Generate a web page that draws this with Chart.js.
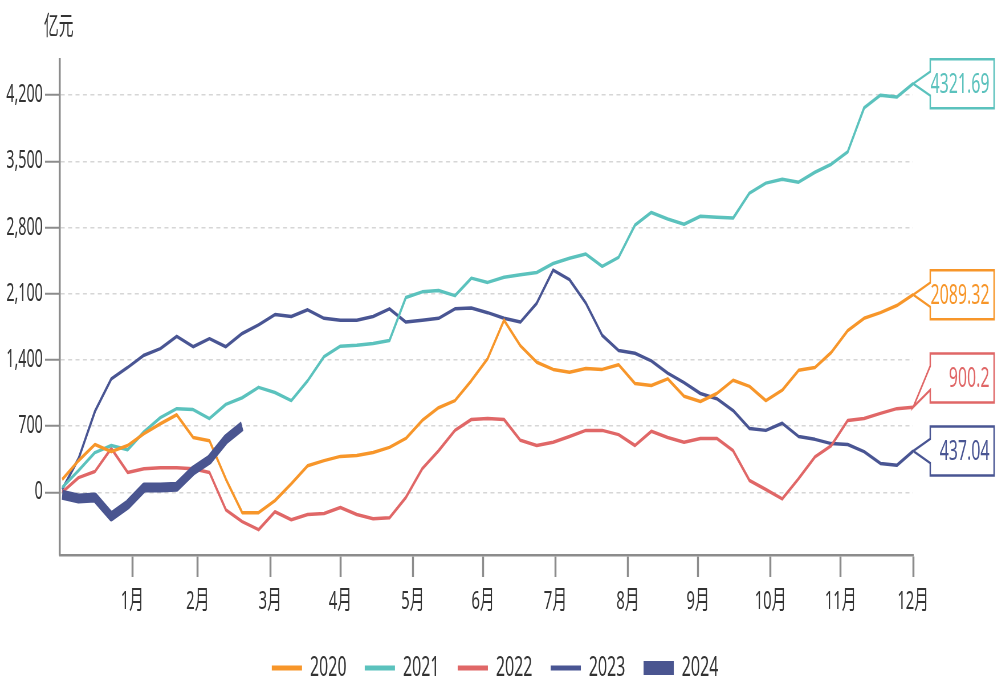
<!DOCTYPE html>
<html>
<head>
<meta charset="utf-8">
<script src="https://cdn.jsdelivr.net/npm/chart.js@4.4.1/dist/chart.umd.min.js"></script>
<style>
  html, body { margin: 0; padding: 0; background: #fff; overflow: hidden; }
  /* the reference is squeezed horizontally, so draw wide and scale down */
  #wrap { width: 1747px; height: 680px; transform: scaleX(0.57); transform-origin: 0 0; }
  #chart { display: block; }
</style>
</head>
<body>
<div id="wrap"><canvas id="chart" width="1747" height="680"></canvas></div>
<script>
// x positions in day-of-year, one sample per week
const days = [1, 8, 15, 22, 29, 36, 43, 50, 57, 64, 71, 78, 85, 92, 99, 106, 113, 120, 127, 134,
  141, 148, 155, 162, 169, 176, 183, 190, 197, 204, 211, 218, 225, 232, 239, 246, 253, 260, 267, 274,
  281, 288, 295, 302, 309, 316, 323, 330, 337, 344, 351, 358, 365];
const monthEnds = [31, 59, 90, 120, 151, 181, 212, 243, 273, 304, 334, 365];
const monthLabels = ['1月', '2月', '3月', '4月', '5月', '6月', '7月', '8月', '9月', '10月', '11月', '12月'];
const yTicks = [0, 700, 1400, 2100, 2800, 3500, 4200];
const years = ['2020', '2021', '2022', '2023', '2024'];

const v2020 = [135, 335, 505, 430, 495, 620, 725, 820, 580, 545, 140, -215, -215, -88, 90, 280, 335, 380, 390, 420,
  475, 570, 760, 895, 970, 1180, 1415, 1820, 1550, 1375, 1300, 1270, 1310, 1300, 1350, 1150, 1130, 1200, 1015, 960,
  1045, 1185, 1120, 970, 1080, 1290, 1320, 1480, 1710, 1840, 1900, 1975, 2089.32];
const v2021 = [50, 230, 420, 495, 450, 640, 790, 885, 875, 780, 930, 1000, 1110, 1055, 970, 1180, 1435, 1545, 1555, 1575,
  1605, 2060, 2120, 2135, 2080, 2265, 2220, 2275, 2300, 2325, 2420, 2475, 2520, 2390, 2485, 2825, 2960, 2890, 2835, 2920,
  2910, 2900, 3165, 3270, 3310, 3280, 3385, 3470, 3600, 4065, 4200, 4180, 4321.69];
const v2022 = [0, 155, 220, 465, 210, 250, 260, 260, 250, 210, -185, -310, -395, -205, -290, -235, -225, -160, -235, -280,
  -270, -55, 250, 440, 655, 770, 780, 770, 550, 495, 530, 590, 655, 655, 610, 495, 645, 580, 530, 570,
  570, 440, 125, 30, -70, 145, 375, 495, 760, 780, 835, 885, 900.2];
const v2023 = [30, 357, 855, 1200, 1320, 1450, 1520, 1650, 1540, 1625, 1540, 1680, 1770, 1880, 1860, 1930, 1840, 1820, 1820, 1860,
  1940, 1800, 1820, 1840, 1940, 1950, 1900, 1840, 1800, 2000, 2350, 2250, 2000, 1660, 1500, 1470, 1390, 1260, 1160, 1045,
  990, 865, 675, 655, 730, 590, 560, 515, 505, 430, 305, 285, 437.04];
const v2024 = [-25, -65, -55, -255, -130, 50, 50, 60, 230, 345, 560, 700];

const series = [v2020, v2021, v2022, v2023, v2024];
const colors = ['#f7962a', '#5bc2bd', '#e06767', '#495593', '#4a5590'];
const family = '"Noto Sans", "Noto Sans CJK SC", sans-serif';

Chart.defaults.font.family = family;
Chart.defaults.color = '#333';

const decor = {
  id: 'decor',
  afterLayout(chart) {
    chart.legend.left += 15;
    chart.legend.right += 15;
  },
  afterDatasetsDraw(chart) {
    const { ctx, width } = chart;
    const items = [0, 1, 2, 3].map(i => {
      const p = chart.getDatasetMeta(i).data[series[i].length - 1];
      return { i, x: p.x, y: p.y };
    }).sort((a, b) => b.y - a.y);
    let prev = Infinity;
    items.forEach(it => {
      it.cy = Math.min(it.y, prev - 73);
      prev = it.cy;
      const left = it.x + 30, right = width - 3;
      const top = it.cy - 24.5, bottom = it.cy + 24.5;
      ctx.save();
      ctx.beginPath();
      ctx.moveTo(left, top);
      ctx.lineTo(right, top);
      ctx.lineTo(right, bottom);
      ctx.lineTo(left, bottom);
      ctx.lineTo(left, it.cy + 12);
      ctx.lineTo(it.x, it.y);
      ctx.lineTo(left, it.cy - 12);
      ctx.closePath();
      ctx.fillStyle = '#fff';
      ctx.fill();
      ctx.lineWidth = 2.5;
      ctx.strokeStyle = colors[it.i];
      ctx.stroke();
      const s = series[it.i];
      ctx.fillStyle = colors[it.i];
      ctx.font = '28px ' + family;
      ctx.textAlign = 'right';
      ctx.textBaseline = 'middle';
      ctx.fillText(String(s[s.length - 1]), right - 8, it.cy + 1);
      ctx.restore();
    });
  },
  afterDraw(chart) {
    const { ctx } = chart;
    ctx.save();
    ctx.font = '26px ' + family;
    ctx.fillStyle = '#333';
    ctx.textAlign = 'center';
    ctx.textBaseline = 'middle';
    ctx.fillText('亿元', chart.chartArea.left - 2, 28);
    ctx.restore();
  }
};

const ctx = document.getElementById('chart').getContext('2d');
const chart = new Chart(ctx, {
  type: 'line',
  data: {
    datasets: years.map((y, i) => ({
      label: y,
      data: series[i].map((v, k) => ({ x: days[k], y: v })),
      borderColor: colors[i],
      backgroundColor: colors[i],
      borderWidth: i === 4 ? 10 : 3.5,
      borderJoinStyle: 'round',
      pointRadius: 0,
      tension: 0,
      order: i === 4 ? -1 : i
    }))
  },
  options: {
    responsive: false,
    devicePixelRatio: 1,
    animation: false,
    layout: { padding: { top: 60, right: 145, left: 0, bottom: -12 } },
    plugins: {
      tooltip: { enabled: false },
      legend: {
        position: 'bottom',
        fullSize: false,
        labels: {
          usePointStyle: true,
          pointStyleWidth: 53,
          padding: 32,
          color: '#333',
          font: { size: 28 },
          generateLabels: c => c.data.datasets.map((ds, i) => ({
            text: ds.label,
            fillStyle: ds.borderColor,
            strokeStyle: ds.borderColor,
            lineWidth: i === 4 ? 14 : 5,
            pointStyle: 'line',
            hidden: false,
            datasetIndex: i,
            fontColor: '#333'
          }))
        }
      }
    },
    scales: {
      x: {
        type: 'linear',
        min: 0,
        max: 365,
        afterFit: s => { s.height = 67; },
        afterBuildTicks: s => { s.ticks = monthEnds.map(v => ({ value: v })); },
        ticks: {
          callback: (v, i) => monthLabels[i],
          autoSkip: false,
          maxRotation: 0,
          color: '#333',
          font: { size: 26 },
          padding: 9
        },
        grid: { drawOnChartArea: false, tickLength: 22, tickColor: '#8c8c8c', tickWidth: 3.5 },
        border: { display: true, color: '#8c8c8c', width: 2.5 }
      },
      y: {
        min: -663,
        max: 4572,
        afterFit: s => { s.width = 105; },
        afterBuildTicks: s => { s.ticks = yTicks.map(v => ({ value: v })); },
        ticks: {
          callback: v => v.toLocaleString('en-US'),
          color: '#333',
          font: { size: 25 },
          padding: 4
        },
        grid: { color: '#d6d6d6', lineWidth: 1.5, tickLength: 26, tickColor: '#8c8c8c', tickWidth: 2 },
        border: { display: true, color: '#8c8c8c', width: 3.5, dash: [7, 6] }
      }
    }
  },
  plugins: [decor]
});
</script>
</body>
</html>
